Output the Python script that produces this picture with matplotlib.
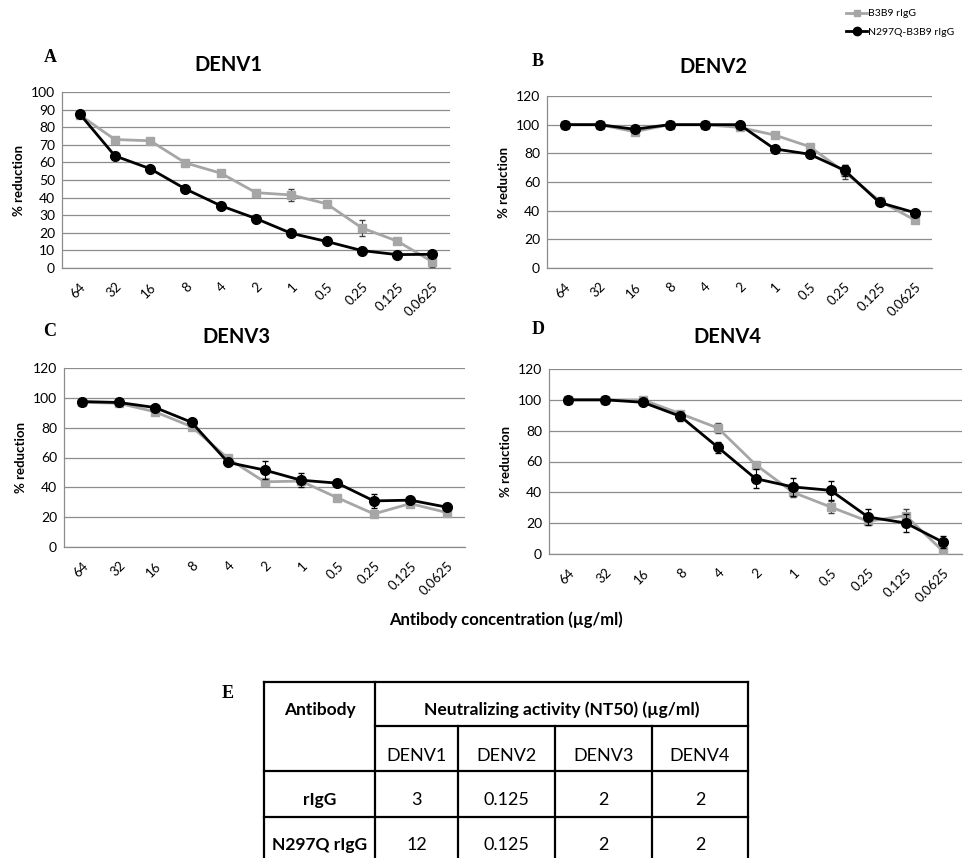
import numpy as np
import matplotlib.pyplot as plt
from matplotlib.lines import Line2D

plt.rcParams['font.family'] = ['Lato', 'DejaVu Sans']

concentrations = ['64', '32', '16', '8', '4', '2', '1', '0.5', '0.25', '0.125', '0.0625']
serotypes = ['DENV1', 'DENV2', 'DENV3', 'DENV4']
panel_letters = ['A', 'B', 'C', 'D']
series_names = ['B3B9 rIgG', 'N297Q-B3B9 rIgG']

# % reduction, B3B9 rIgG (grey squares)
b3b9_denv1 = [87, 73, 72.3, 59.7, 53.9, 42.8, 41.5, 36.5, 22.8, 15.3, 3.6]
b3b9_denv2 = [100, 100, 95.1, 100, 100, 98.1, 92.8, 84.7, 67, 46.9, 33.6]
b3b9_denv3 = [97, 96.4, 90.6, 80.7, 59.4, 43.7, 44.2, 33, 22.2, 29.1, 23.1]
b3b9_denv4 = [100, 100, 100, 91, 81.7, 58, 40, 30.5, 21.2, 24.9, 1.7]
# error bars
b3b9_err1 = [1, 1, 1, 1, 1, 1, 3.2, 1, 4.7, 1, 3]
b3b9_err2 = [0.5, 0.5, 1.5, 0.5, 0.5, 1, 1, 1, 5, 1.5, 1]
b3b9_err3 = [1, 1, 1, 1, 2, 1, 2, 1, 2, 1, 1]
b3b9_err4 = [0.5, 0.5, 2, 1, 3.5, 2, 3, 4, 2, 4, 2]

# % reduction, N297Q-B3B9 rIgG (black circles)
n297q_denv1 = [87.6, 63.7, 56.4, 44.9, 35.4, 28.1, 19.7, 15.1, 9.9, 7.6, 7.8]
n297q_denv2 = [100, 100, 96.8, 100, 100, 100, 83.1, 79.4, 68.2, 45.7, 38.7]
n297q_denv3 = [97.5, 96.9, 93.5, 83.6, 56.7, 51.6, 44.8, 42.8, 30.9, 31.4, 26.7]
n297q_denv4 = [100, 100, 98.4, 89.3, 69.2, 48.9, 43.5, 41.3, 24, 20.1, 7.6]
n297q_err1 = [0.5, 1, 1, 1, 1, 1, 1, 1, 1, 1, 1]
n297q_err2 = [0.5, 0.5, 1, 0.5, 0.5, 0.5, 1, 1, 4, 1.5, 1]
n297q_err3 = [1, 1, 1, 1, 2, 6, 4.5, 2, 4.5, 1, 1]
n297q_err4 = [0.5, 0.5, 1, 3, 3.5, 6, 6, 6, 5, 6, 4]

b3b9_all = [b3b9_denv1, b3b9_denv2, b3b9_denv3, b3b9_denv4]
b3b9_errs = [b3b9_err1, b3b9_err2, b3b9_err3, b3b9_err4]
n297q_all = [n297q_denv1, n297q_denv2, n297q_denv3, n297q_denv4]
n297q_errs = [n297q_err1, n297q_err2, n297q_err3, n297q_err4]

# NT50 table
table_rows = ['rIgG', 'N297Q rIgG']
nt50_rigg = ['3', '0.125', '2', '2']
nt50_n297q = ['12', '0.125', '2', '2']

W, H = 966, 858
fig = plt.figure(figsize=(W / 100, H / 100), dpi=100)


def box(left, top, right, bottom):
    return [left / W, 1 - bottom / H, (right - left) / W, (bottom - top) / H]


def fpos(x, y):
    return x / W, 1 - y / H


axes_boxes = [(62, 92, 450, 268), (547, 96, 932, 268),
              (64, 368, 465, 547), (549, 369, 962, 554)]
ymaxes = [100, 120, 120, 120]
ysteps = [10, 20, 20, 20]
title_pos = [(228, 65), (713, 67), (236, 337), (727, 337)]
letter_pos = [(50, 57), (538, 62), (50, 332), (538, 330)]

grey = '#a6a6a6'
gridc = '#8c8c8c'
x = np.arange(len(concentrations))

for i in range(4):
    ax = fig.add_axes(box(*axes_boxes[i]))
    ax.errorbar(x, b3b9_all[i], yerr=b3b9_errs[i], color=grey, marker='s', ms=6,
                lw=2, ecolor='#404040', elinewidth=0.8, capsize=2, zorder=3)
    ax.errorbar(x, n297q_all[i], yerr=n297q_errs[i], color='black', marker='o', ms=7,
                lw=2, ecolor='black', elinewidth=0.8, capsize=2, zorder=4)
    ax.set_xlim(-0.5, len(concentrations) - 0.5)
    ax.set_ylim(0, ymaxes[i])
    ax.set_yticks(np.arange(0, ymaxes[i] + 1, ysteps[i]))
    ax.yaxis.grid(True, color=gridc, lw=0.9)
    ax.set_axisbelow(True)
    ax.set_xticks(x)
    ax.set_xticklabels(concentrations, rotation=45, ha='right', va='top',
                       rotation_mode='anchor', fontsize=9.5)
    ax.tick_params(axis='y', length=0, labelsize=10, pad=5)
    ax.tick_params(axis='x', length=0, pad=9)
    for s in ['top', 'right']:
        ax.spines[s].set_visible(False)
    for s in ['left', 'bottom']:
        ax.spines[s].set_color(gridc)
        ax.spines[s].set_linewidth(0.9)
    ax.set_ylabel('% reduction', fontsize=9.5, fontweight='bold', labelpad=4)
    tx, ty = fpos(*title_pos[i])
    fig.text(tx, ty, serotypes[i], fontsize=14.5, fontweight='bold', ha='center', va='center')
    lx, ly = fpos(*letter_pos[i])
    fig.text(lx, ly, panel_letters[i], fontsize=13, fontweight='bold',
             family='Liberation Serif', ha='center', va='center')

# common x label
xl, yl = fpos(506, 620)
fig.text(xl, yl, 'Antibody concentration (\u00b5g/ml)', fontsize=12, fontweight='bold',
         ha='center', va='center')

# legend
handles = [Line2D([], [], color=grey, marker='s', ms=5, lw=2),
           Line2D([], [], color='black', marker='o', ms=6, lw=2)]
lgx, lgy = fpos(842, 5)
fig.legend(handles, series_names, loc='upper left', bbox_to_anchor=(lgx, lgy),
           frameon=False, fontsize=7.5, handlelength=2.0, handletextpad=0.1,
           labelspacing=0.9, borderaxespad=0)

# table E
tab = fig.add_axes([0, 0, 1, 1])
tab.set_xlim(0, W)
tab.set_ylim(H, 0)
tab.axis('off')
cols = [264, 375, 458, 555, 652, 748]
rows = [682, 726, 771, 817, 862]
lw = 1.6
tab.plot([cols[0], cols[-1]], [rows[0], rows[0]], color='black', lw=lw)
tab.plot([cols[1], cols[-1]], [rows[1], rows[1]], color='black', lw=lw)
for r in rows[2:]:
    tab.plot([cols[0], cols[-1]], [r, r], color='black', lw=lw)
for c in [cols[0], cols[1], cols[-1]]:
    tab.plot([c, c], [rows[0], rows[-1]], color='black', lw=lw)
for c in cols[2:-1]:
    tab.plot([c, c], [rows[1], rows[-1]], color='black', lw=lw)

tab.text((cols[0] + cols[1]) / 2, 710, 'Antibody', fontsize=12.5, fontweight='bold',
         ha='center', va='center')
tab.text((cols[1] + cols[-1]) / 2, 710, 'Neutralizing activity (NT50) (\u00b5g/ml)',
         fontsize=12.5, fontweight='bold', ha='center', va='center')
for j, name in enumerate(serotypes):
    cx = (cols[j + 1] + cols[j + 2]) / 2
    tab.text(cx, 756, name, fontsize=13, ha='center', va='center')
row_vals = [nt50_rigg, nt50_n297q]
row_y = [800, 845]
for k, label in enumerate(table_rows):
    tab.text((cols[0] + cols[1]) / 2, row_y[k], label, fontsize=12.5, fontweight='bold',
             ha='center', va='center')
    for j, v in enumerate(row_vals[k]):
        cx = (cols[j + 1] + cols[j + 2]) / 2
        tab.text(cx, row_y[k], v, fontsize=13, ha='center', va='center')

ex, ey = fpos(228, 693)
fig.text(ex, ey, 'E', fontsize=13, fontweight='bold', family='Liberation Serif',
         ha='center', va='center')

fig.savefig('out.png', dpi=100)
